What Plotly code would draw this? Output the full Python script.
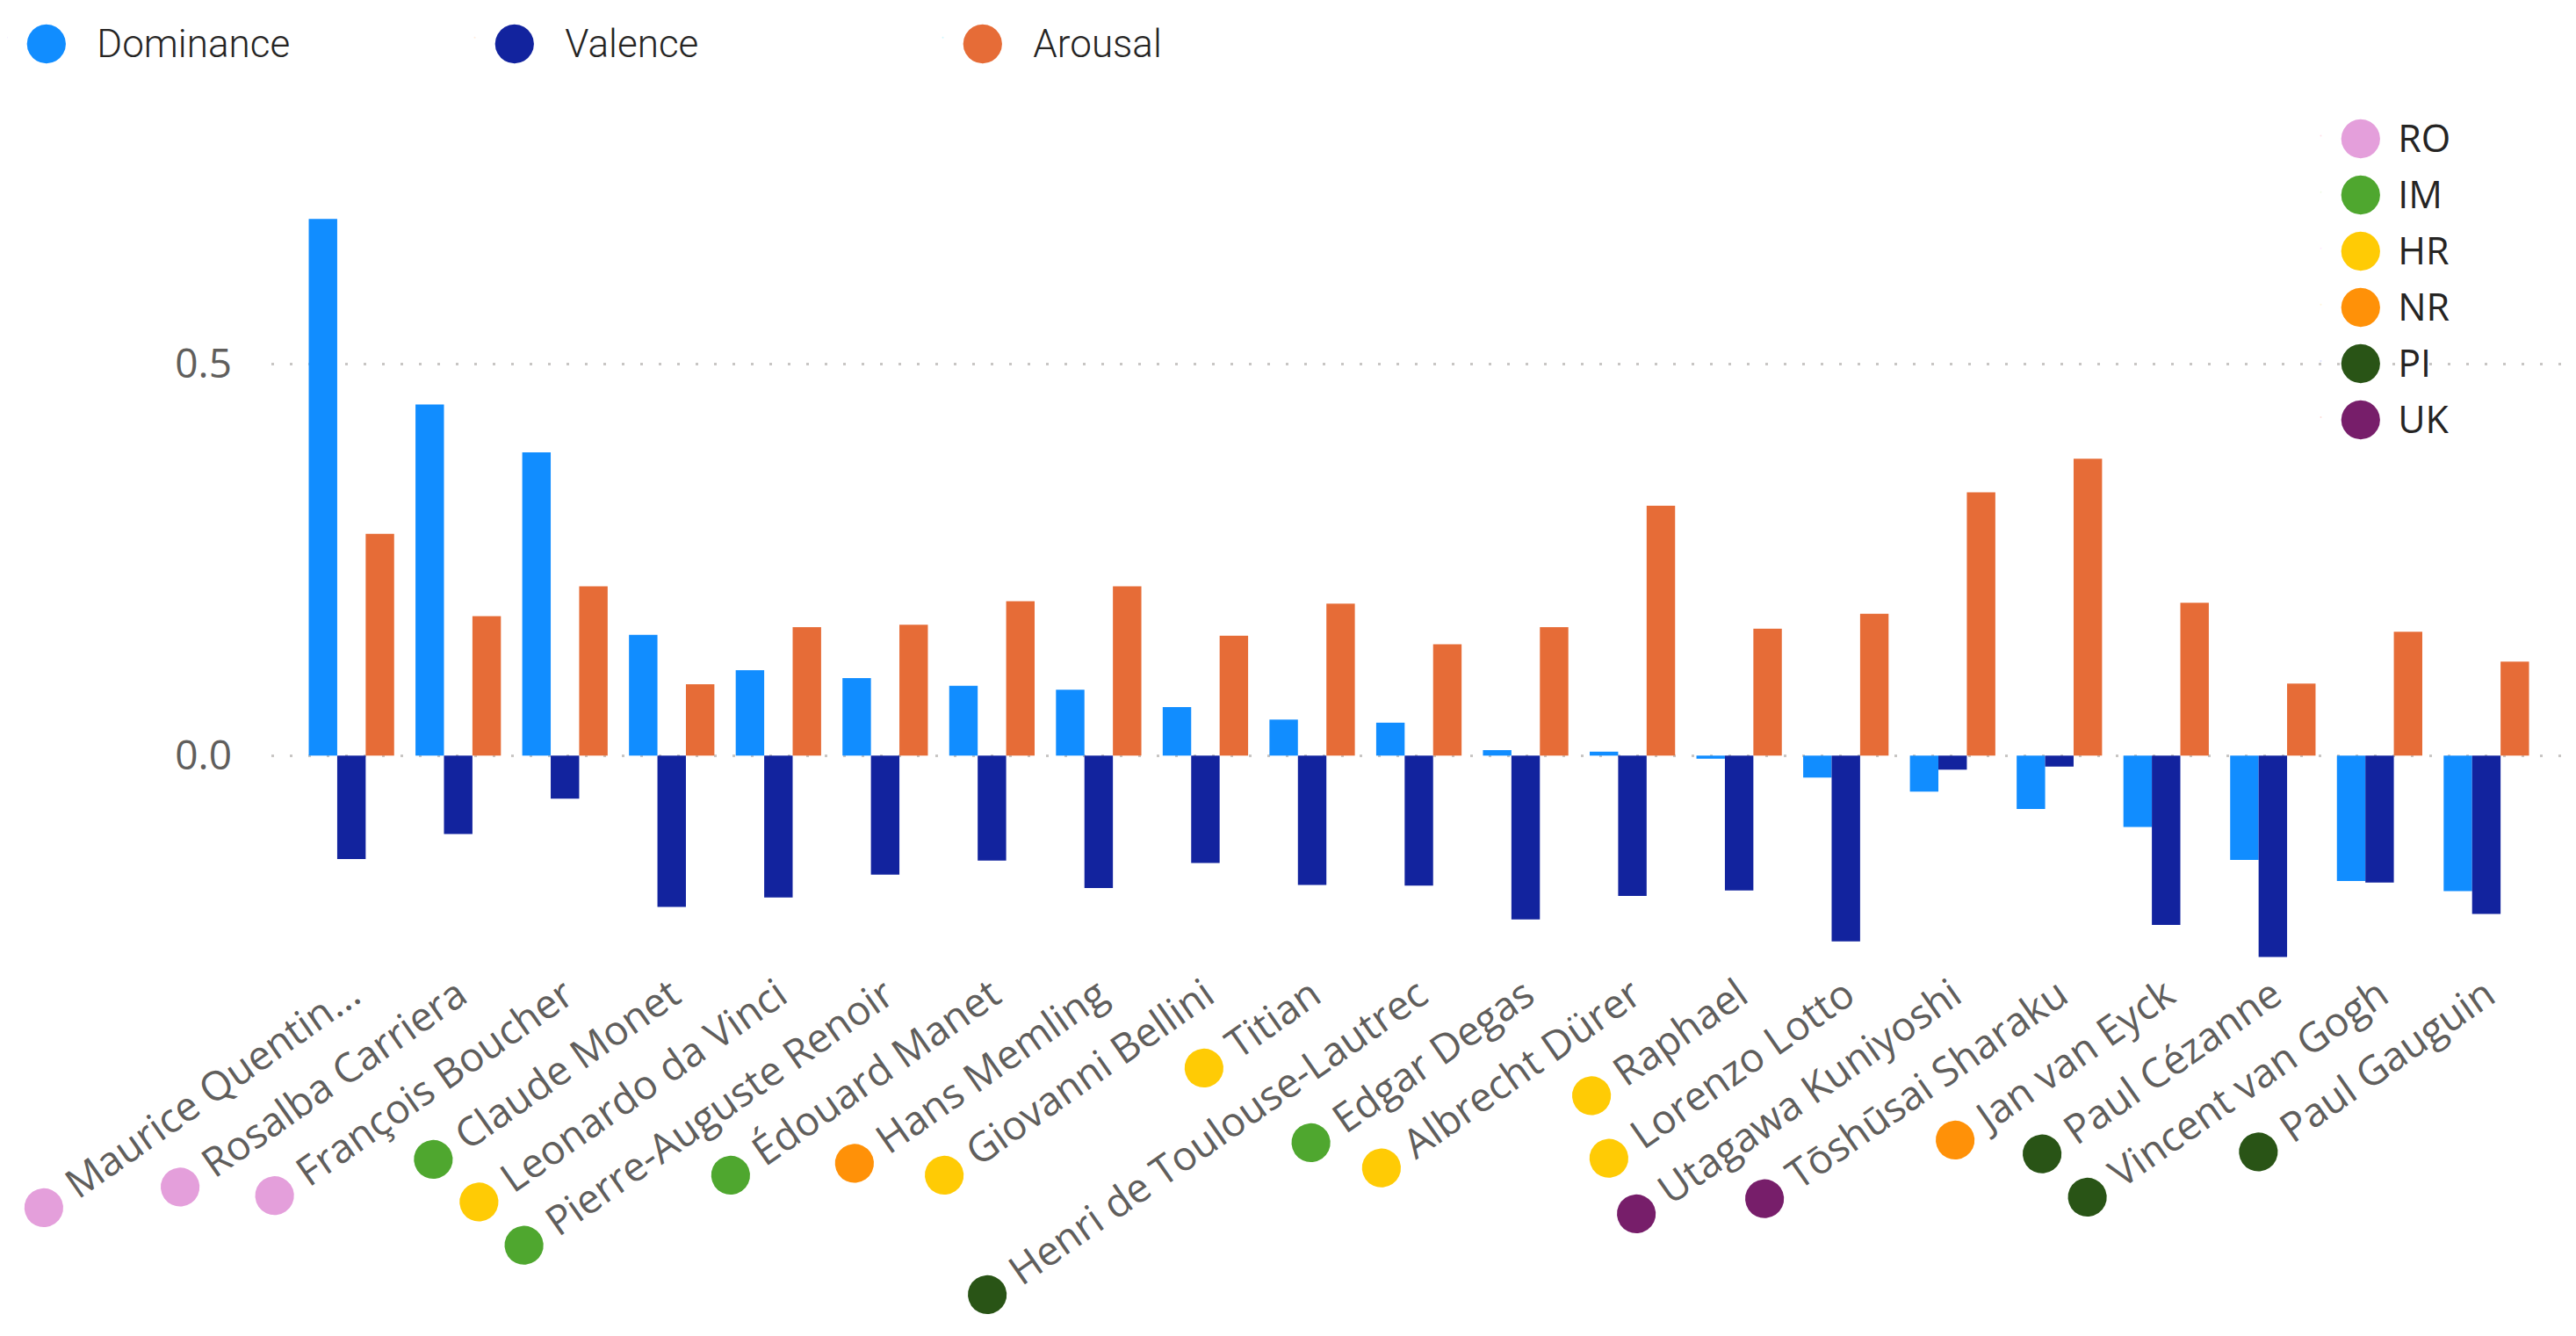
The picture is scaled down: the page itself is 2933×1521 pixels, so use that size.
import plotly.graph_objects as go

names = ["Maurice Quentin...", "Rosalba Carriera", "François Boucher", "Claude Monet",
         "Leonardo da Vinci", "Pierre-Auguste Renoir", "Édouard Manet", "Hans Memling",
         "Giovanni Bellini", "Titian", "Henri de Toulouse-Lautrec", "Edgar Degas",
         "Albrecht Dürer", "Raphael", "Lorenzo Lotto", "Utagawa Kuniyoshi",
         "Tōshūsai Sharaku", "Jan van Eyck", "Paul Cézanne", "Vincent van Gogh", "Paul Gauguin"]
groups = ["RO", "RO", "RO", "IM", "HR", "IM", "IM", "NR", "HR", "HR", "PI", "IM",
          "HR", "HR", "HR", "UK", "UK", "NR", "PI", "PI", "PI"]
dominance = [0.685, 0.448, 0.387, 0.154, 0.109, 0.099, 0.089, 0.084, 0.062, 0.046, 0.042,
             0.007, 0.005, -0.004, -0.028, -0.046, -0.068, -0.091, -0.133, -0.160, -0.173]
valence = [-0.132, -0.100, -0.055, -0.193, -0.181, -0.152, -0.134, -0.169, -0.137, -0.165,
           -0.166, -0.209, -0.179, -0.172, -0.237, -0.018, -0.014, -0.216, -0.257, -0.162, -0.202]
arousal = [0.283, 0.178, 0.216, 0.091, 0.164, 0.167, 0.197, 0.216, 0.153, 0.194, 0.142,
           0.164, 0.319, 0.162, 0.181, 0.336, 0.379, 0.195, 0.092, 0.158, 0.120]
group_names = ["RO", "IM", "HR", "NR", "PI", "UK"]
group_colors = ["#E49FDB", "#4FA72F", "#FFCB05", "#FF9108", "#295416", "#771E6A"]
series_names = ["Dominance", "Valence", "Arousal"]
series_colors = ["#118DFF", "#12239E", "#E66C37"]

W, H = 2933, 1521
cmap = dict(zip(group_names, group_colors))
DOT = ("<span style='font-family:DejaVu Sans;font-weight:normal;font-size:58px;"
       "color:{c}'>●</span>")
TXT = "<span style='font-size:{s}px'>{t}</span>"

ticktext = [DOT.format(c=cmap[g]) + "\u00a0" + n for n, g in zip(names, groups)]

fig = go.Figure()
for sname, vals, col in zip(series_names, [dominance, valence, arousal], series_colors):
    fig.add_trace(go.Bar(x=names, y=vals, name=sname, marker=dict(color=col, line=dict(width=0)),
                         showlegend=False))

# legend entries (series)
for sname, col in zip(series_names, series_colors):
    fig.add_trace(go.Scatter(x=[None], y=[None], mode="markers", marker=dict(opacity=0, size=2),
                             name=DOT.format(c=col) + TXT.format(s=44, t="\u00a0\u00a0\u00a0" + sname),
                             legend="legend"))
# legend entries (groups)
for g, col in zip(group_names, group_colors):
    fig.add_trace(go.Scatter(x=[None], y=[None], mode="markers", marker=dict(opacity=0, size=2),
                             name=DOT.format(c=col) + TXT.format(s=33, t="\u00a0\u00a0")
                             + TXT.format(s=43, t=g),
                             legend="legend2"))

fig.update_layout(
    width=W, height=H,
    margin=dict(l=301, r=25, t=210, b=419, autoexpand=False),
    paper_bgcolor="white", plot_bgcolor="white",
    barmode="group", bargap=0.2, bargroupgap=0,
    font=dict(family="Segoe UI, Open Sans, sans-serif", color="#605E5C"),
    legend=dict(orientation="h", xref="paper", yref="paper", x=-0.1233, y=1.246,
                xanchor="left", yanchor="top", entrywidth=488, entrywidthmode="pixels",
                font=dict(family="Roboto", size=58, color="#252423", weight=300),
                bgcolor="rgba(0,0,0,0)", itemclick=False),
    legend2=dict(orientation="v", xref="container", yref="container", x=0.8914, y=0.928,
                 xanchor="left", yanchor="top",
                 font=dict(family="Segoe UI, Open Sans, sans-serif", size=47, color="#252423"),
                 bgcolor="rgba(0,0,0,0)", tracegroupgap=0, itemclick=False),
    xaxis=dict(type="category", range=[-0.75, 20.70], tickmode="array", tickvals=names,
               ticktext=ticktext, tickangle=-35, showgrid=False, showline=False, ticks="",
               tickfont=dict(size=46, color="#605E5C"), ticklabelstandoff=-14, automargin=False),
    yaxis=dict(range=[-0.28, 0.72], dtick=0.5, tick0=0, tickformat=".1f", showgrid=True,
               gridcolor="#C8C6C4", gridwidth=3, griddash="3px,18px", zeroline=False,
               showline=False, ticks="", tickfont=dict(size=46, color="#605E5C"),
               ticklabelstandoff=44, automargin=False),
)

fig.write_html("out.html")
